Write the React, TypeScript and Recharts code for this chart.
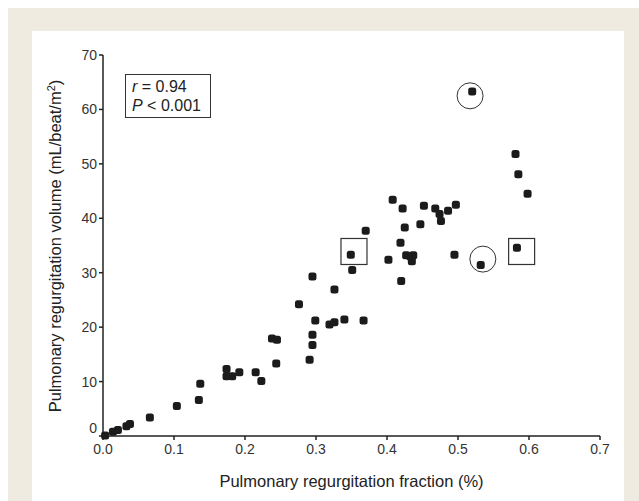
import React from "react";
import {
  ScatterChart,
  Scatter,
  XAxis,
  YAxis,
  ReferenceDot,
  Label,
} from "recharts";

// regurgitation fraction (x) and volume (y) per patient
const fraction = [
  0.003, 0.014, 0.021, 0.033, 0.038, 0.066, 0.104, 0.135, 0.137, 0.174, 0.174,
  0.182, 0.192, 0.215, 0.223, 0.238, 0.245, 0.244, 0.276, 0.295, 0.295, 0.295,
  0.291, 0.299, 0.319, 0.326, 0.326, 0.34, 0.349, 0.351, 0.367, 0.37, 0.402,
  0.408, 0.419, 0.42, 0.422, 0.425, 0.427, 0.433, 0.437, 0.435, 0.447, 0.452,
  0.468, 0.474, 0.476, 0.486, 0.497, 0.495, 0.52, 0.532, 0.581, 0.585, 0.598,
  0.583,
];
const volume = [
  0.1, 0.8, 1.1, 1.8, 2.2, 3.4, 5.5, 6.6, 9.6, 12.3, 11.0, 11.0, 11.7, 11.7,
  10.1, 17.9, 17.7, 13.3, 24.2, 29.3, 18.6, 16.7, 14.0, 21.2, 20.5, 20.9, 26.9,
  21.4, 33.3, 30.5, 21.2, 37.7, 32.4, 43.4, 35.5, 28.5, 41.8, 38.3, 33.2, 33.0,
  33.2, 32.1, 38.9, 42.3, 41.8, 40.8, 39.5, 41.4, 42.5, 33.3, 63.3, 31.4, 51.8,
  48.1, 44.5, 34.6,
];

// highlighted patients
const circledX = [0.517, 0.535];
const circledY = [62.5, 32.5];
const boxedX = [0.3535, 0.5896];
const boxedY = [33.9, 33.9];

const xTicks = [0, 0.1, 0.2, 0.3, 0.4, 0.5, 0.6, 0.7];
const yTicks = [0, 10, 20, 30, 40, 50, 60, 70];

const data = fraction.map((f, i) => ({ x: f, y: volume[i] }));

const FONT = "'Liberation Sans', Arial, sans-serif";
const INK = "#222";

const dotShape = (props: any) => {
  const { cx, cy } = props;
  return (
    <rect x={cx - 4} y={cy - 4} width={8} height={8} rx={2.5} ry={2.5} fill="#1b1b1b" />
  );
};

const YTick = (props: any) => {
  const { x, y, payload } = props;
  const shift = payload.value === 0 ? -8 : 0;
  return (
    <text
      x={x}
      y={y + shift}
      dy="0.36em"
      textAnchor="end"
      fontSize={14}
      fontFamily={FONT}
      fill="#333"
    >
      {payload.value}
    </text>
  );
};

const YLabel = () => {
  const cx = 61;
  const cy = 246;
  return (
    <text
      x={cx}
      y={cy}
      transform={`rotate(-90 ${cx} ${cy})`}
      textAnchor="middle"
      fontSize={16.5}
      fontFamily={FONT}
      fill={INK}
    >
      Pulmonary regurgitation volume (mL/beat/m
      <tspan fontSize={11} dy={-6}>
        2
      </tspan>
      <tspan dy={6}>)</tspan>
    </text>
  );
};

export default function App() {
  return (
    <div
      style={{
        position: "fixed",
        left: 0,
        top: 0,
        width: 639,
        height: 501,
        background: "#fff",
        overflow: "hidden",
      }}
    >
      <div
        style={{
          position: "absolute",
          left: 8,
          top: 8,
          width: 631,
          height: 493,
          background: "#efebe0",
        }}
      />
      <div
        style={{
          position: "absolute",
          left: 32,
          top: 31,
          width: 592,
          height: 470,
          background: "#fff",
        }}
      />
      <div style={{ position: "absolute", left: 0, top: 0 }}>
        <ScatterChart
          width={639}
          height={501}
          margin={{ top: 55, right: 39, bottom: 0, left: 0 }}
        >
          <XAxis
            type="number"
            dataKey="x"
            domain={[0, 0.7]}
            ticks={xTicks}
            tickFormatter={(v: number) => v.toFixed(1)}
            height={65}
            tickSize={4}
            tickMargin={4}
            tick={{ fontSize: 14, fontFamily: FONT, fill: "#333" }}
            stroke={INK}
            strokeWidth={1.5}
          >
            <Label
              value="Pulmonary regurgitation fraction (%)"
              position="insideBottom"
              offset={14}
              style={{ fontSize: 16.5, fontFamily: FONT, fill: INK }}
            />
          </XAxis>
          <YAxis
            type="number"
            dataKey="y"
            domain={[0, 70]}
            ticks={yTicks}
            width={103}
            tickSize={4}
            tickMargin={2}
            tick={<YTick />}
            stroke={INK}
            strokeWidth={1.5}
          >
            <Label content={<YLabel />} />
          </YAxis>
          <Scatter data={data} shape={dotShape} isAnimationActive={false} />
          {circledX.map((cx, i) => (
            <ReferenceDot
              key={`c${i}`}
              x={cx}
              y={circledY[i]}
              r={13}
              fill="none"
              stroke="#333"
              strokeWidth={1}
            />
          ))}
          {boxedX.map((bx, i) => (
            <ReferenceDot
              key={`b${i}`}
              x={bx}
              y={boxedY[i]}
              r={13}
              shape={(p: any) => (
                <rect
                  x={p.cx - 13}
                  y={p.cy - 13}
                  width={26}
                  height={26}
                  fill="none"
                  stroke="#333"
                  strokeWidth={1.2}
                />
              )}
            />
          ))}
        </ScatterChart>
      </div>
      <div
        style={{
          position: "absolute",
          left: 125,
          top: 74,
          width: 86,
          height: 44,
          border: "1px solid #333",
          background: "#fff",
          fontFamily: FONT,
          fontSize: 16,
          lineHeight: "19px",
          color: INK,
          padding: "2px 0 0 6px",
          boxSizing: "border-box",
          whiteSpace: "nowrap",
        }}
      >
        <div>
          <i>r</i> = 0.94
        </div>
        <div>
          <i>P</i> &lt; 0.001
        </div>
      </div>
    </div>
  );
}
